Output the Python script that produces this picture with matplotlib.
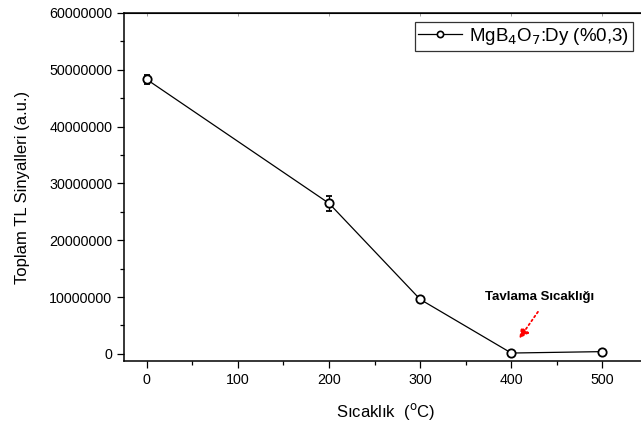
import matplotlib
matplotlib.use('Agg')
import matplotlib.pyplot as plt
from matplotlib.lines import Line2D
from matplotlib.ticker import MultipleLocator, FuncFormatter

plt.rcParams['font.family'] = ['Liberation Sans', 'DejaVu Sans']

# Data
temps = [0, 200, 300, 400, 500]
signal = [48300000, 26500000, 9600000, 150000, 400000]
errors = [800000, 1300000, 300000, 250000, 250000]
label = 'MgB$_4$O$_7$:Dy (%0,3)'

fig = plt.figure(figsize=(6.41, 4.24), dpi=100)
ax = fig.add_axes([0.1934, 0.1486, 0.8175, 0.8208])

ax.errorbar(temps, signal, yerr=errors, color='black', lw=0.9,
            marker='o', ms=6, mfc='white', mec='black', mew=1.3,
            ecolor='black', elinewidth=0.9, capsize=2.5, capthick=0.9)

ax.set_xlim(-25, 550)
ax.set_ylim(-1250000, 60000000)
ax.xaxis.set_major_locator(MultipleLocator(100))
ax.xaxis.set_minor_locator(MultipleLocator(50))
ax.yaxis.set_major_locator(MultipleLocator(10000000))
ax.yaxis.set_minor_locator(MultipleLocator(5000000))
ax.yaxis.set_major_formatter(FuncFormatter(lambda v, p: '%d' % v))

ax.tick_params(which='both', direction='out', labelsize=10.3, top=False, right=False)
ax.tick_params(which='major', length=5, width=0.9)
ax.tick_params(which='minor', length=3, width=0.9)
top = ax.secondary_xaxis('top')
top.tick_params(which='both', direction='in', labeltop=False, length=2, width=0.4, color='#555555')
for s in ax.spines.values():
    s.set_linewidth(1.1)

ax.set_xlabel('Sıcaklık  ($^{\\rm o}$C)', fontsize=12, labelpad=10)
ax.set_ylabel('Toplam TL Sinyalleri (a.u.)', fontsize=12, labelpad=14)

ax.annotate('', xy=(407, 2300000), xytext=(431, 7800000),
            arrowprops=dict(arrowstyle='-|>', color='red', ls=':', lw=1.3, mutation_scale=14))
ax.text(431, 10100000, 'Tavlama Sıcaklığı', fontsize=9.5, fontweight='bold',
        ha='center', va='center')

handle = Line2D([], [], color='black', lw=0.9, marker='o', ms=4.5,
                mfc='white', mec='black', mew=1.2)
leg = ax.legend([handle], [label], loc='upper right', bbox_to_anchor=(0.971, 0.974),
                fontsize=13.5, frameon=True, fancybox=False, edgecolor='black',
                handlelength=2.3, handletextpad=0.4, borderpad=0.2, borderaxespad=0.0)
leg.get_frame().set_linewidth(0.9)

fig.savefig('out.png', dpi=100)
